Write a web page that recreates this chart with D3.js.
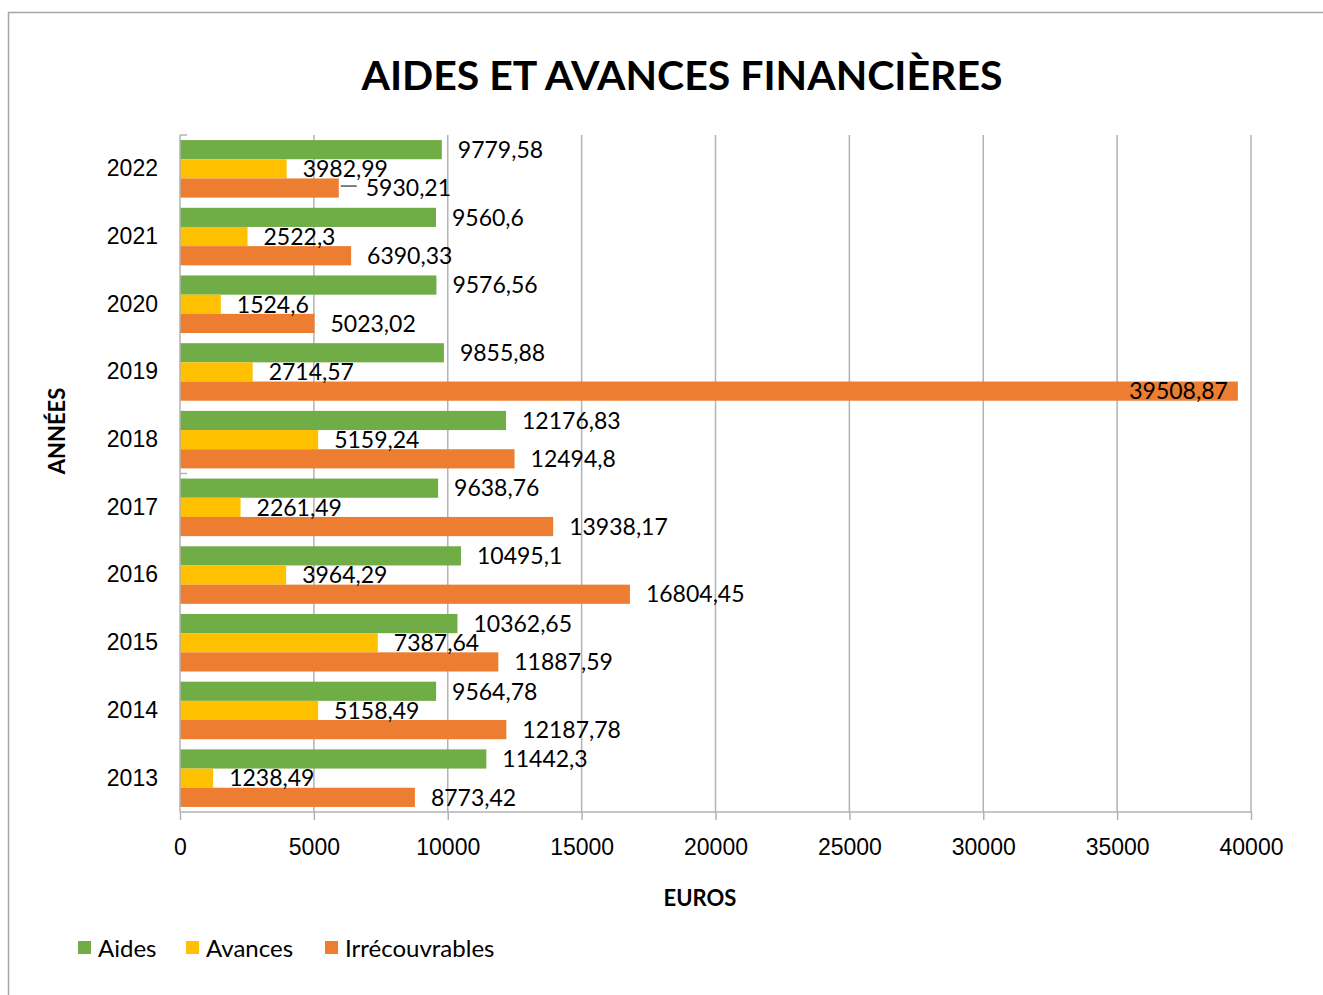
<!DOCTYPE html>
<html lang="fr">
<head>
<meta charset="UTF-8">
<script src="https://cdn.jsdelivr.net/npm/d3@7"></script>
<title>Aides et avances financières</title>
<style>
  body { margin: 0; background: #fff; }
  svg { display: block; font-family: Lato, "Open Sans", sans-serif; }
  .grid line { stroke: #b3b3b3; stroke-width: 1.5px; }
  .axis path, .axis line { stroke: #b3b3b3; stroke-width: 1.5px; }
  .axis text { fill: #000; font-size: 23px; }
  .lbl { font-size: 23px; fill: #000; }
</style>
</head>
<body>
<script>
// years, top to bottom
const years = ["2022", "2021", "2020", "2019", "2018", "2017", "2016", "2015", "2014", "2013"];
const aides = [9779.58, 9560.6, 9576.56, 9855.88, 12176.83, 9638.76, 10495.1, 10362.65, 9564.78, 11442.3];
const avances = [3982.99, 2522.3, 1524.6, 2714.57, 5159.24, 2261.49, 3964.29, 7387.64, 5158.49, 1238.49];
const irrec = [5930.21, 6390.33, 5023.02, 39508.87, 12494.8, 13938.17, 16804.45, 11887.59, 12187.78, 8773.42];
const seriesNames = ["Aides", "Avances", "Irrécouvrables"];
const seriesColors = ["#70ad47", "#ffc000", "#ed7d31"];
const xTicks = [0, 5000, 10000, 15000, 20000, 25000, 30000, 35000, 40000];

const W = 1323, H = 995;
const plot = { left: 180, right: 1251, top: 135, bottom: 812 };

const svg = d3.select("body").append("svg").attr("width", W).attr("height", H);

// outer chart border
svg.append("rect")
  .attr("x", 8.5).attr("y", 12.5).attr("width", W + 10).attr("height", H + 10)
  .attr("fill", "none").attr("stroke", "#a6a6a6").attr("stroke-width", 1.5);

const x = d3.scaleLinear().domain([0, 40000]).range([plot.left, plot.right]);
const y = d3.scaleBand().domain(years).range([plot.top, plot.bottom])
  .paddingInner(0.15).paddingOuter(0.075);
const sub = d3.scaleBand().domain(seriesNames).range([0, y.bandwidth()]);

// vertical gridlines
svg.append("g").attr("class", "grid")
  .selectAll("line").data(xTicks.slice(1)).join("line")
  .attr("x1", d => x(d)).attr("x2", d => x(d))
  .attr("y1", plot.top).attr("y2", plot.bottom);

// bars
const rows = years.map((yr, i) => ({
  year: yr,
  vals: [aides[i], avances[i], irrec[i]]
}));

const groups = svg.append("g").selectAll("g").data(rows).join("g")
  .attr("transform", d => `translate(0,${y(d.year)})`);

groups.selectAll("rect")
  .data(d => d.vals.map((v, k) => ({ v, k })))
  .join("rect")
  .attr("x", x(0))
  .attr("y", d => sub(seriesNames[d.k]))
  .attr("width", d => x(d.v) - x(0))
  .attr("height", sub.bandwidth())
  .attr("fill", d => seriesColors[d.k]);

const fmt = v => String(v).replace(".", ",");

// value labels, pushed right with a leader line when they would sit on the label above
groups.each(function () {
  const g = d3.select(this);
  let prev = null;
  g.selectAll("text.lbl")
    .data(d => d.vals.map((v, k) => ({ v, k })))
    .join("text")
    .attr("class", "lbl")
    .attr("y", d => sub(seriesNames[d.k]) + sub.bandwidth() / 2)
    .attr("dy", "0.36em")
    .text(d => fmt(d.v))
    .each(function (d) {
      const t = d3.select(this);
      const w = this.getComputedTextLength();
      let lx = x(d.v) + 16;
      if (lx + w > plot.right) {
        t.attr("x", x(d.v) - 10).attr("text-anchor", "end");
        prev = null;
        return;
      }
      if (prev && d.k === 2 && lx > prev.x0 && lx < prev.x1) {
        const cy = sub(seriesNames[d.k]) + sub.bandwidth() / 2 - 2;
        g.append("line")
          .attr("x1", x(d.v) + 2).attr("x2", x(d.v) + 18)
          .attr("y1", cy).attr("y2", cy)
          .attr("stroke", "#000").attr("stroke-width", 1);
        lx = x(d.v) + 27;
      }
      t.attr("x", lx);
      prev = { x0: lx, x1: lx + w };
    });
});

// x axis
const xAxis = svg.append("g").attr("class", "axis")
  .attr("transform", `translate(0,${plot.bottom})`)
  .call(d3.axisBottom(x).tickValues(xTicks).tickFormat(d3.format("d")).tickSize(8).tickPadding(19));
xAxis.select(".domain").attr("d", `M${plot.left},0H${plot.right}`);

// y axis
const yAxis = svg.append("g").attr("class", "axis")
  .attr("transform", `translate(${plot.left},0)`)
  .call(d3.axisLeft(y).tickSize(0).tickPadding(22));
yAxis.select(".domain").attr("d", `M0,${plot.top}V${plot.bottom}`);
const stubs = [plot.top, (y("2018") + y.bandwidth() + y("2017")) / 2];
svg.append("g").selectAll("line").data(stubs).join("line")
  .attr("x1", plot.left).attr("x2", plot.left + 7)
  .attr("y1", d => d).attr("y2", d => d)
  .attr("stroke", "#b3b3b3").attr("stroke-width", 1.5);

// titles
svg.append("text")
  .attr("x", 682).attr("y", 90)
  .attr("text-anchor", "middle")
  .attr("font-size", 41).attr("font-weight", "bold")
  .text("AIDES ET AVANCES FINANCIÈRES");

svg.append("text")
  .attr("x", 700).attr("y", 906)
  .attr("text-anchor", "middle")
  .attr("font-size", 22).attr("font-weight", "bold")
  .text("EUROS");

svg.append("text")
  .attr("transform", "translate(65,431) rotate(-90)")
  .attr("text-anchor", "middle")
  .attr("font-size", 22).attr("font-weight", "bold")
  .text("ANNÉES");

// legend
const legendX = [78, 186, 325];
const legend = svg.append("g").selectAll("g").data(seriesNames).join("g")
  .attr("transform", (d, i) => `translate(${legendX[i]},941)`);
legend.append("rect").attr("width", 13).attr("height", 13)
  .attr("fill", (d, i) => seriesColors[i]);
legend.append("text").attr("x", 20).attr("y", 7).attr("dy", "0.36em")
  .attr("font-size", 24).text(d => d);
</script>
</body>
</html>
